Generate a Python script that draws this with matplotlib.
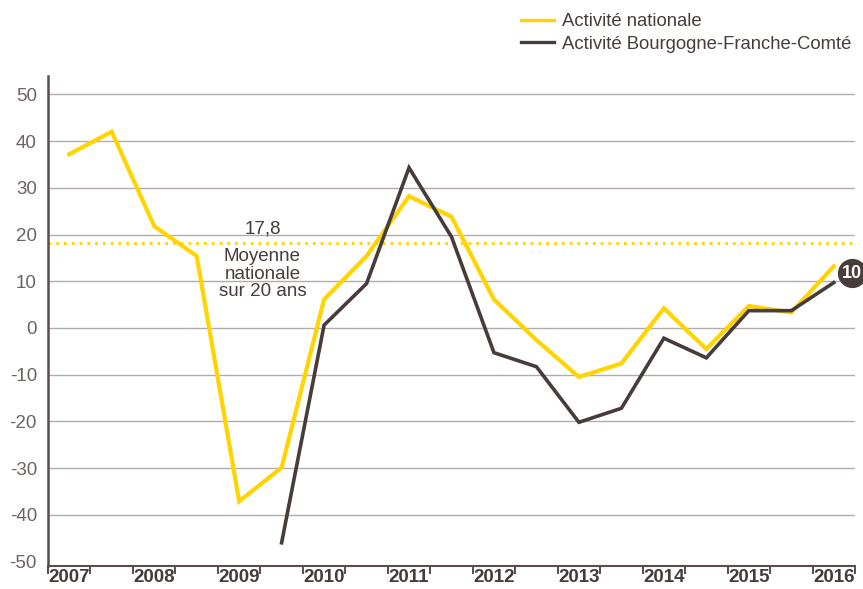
import matplotlib
matplotlib.use("Agg")
import matplotlib.pyplot as plt
import numpy as np

plt.rcParams["font.family"] = ["Liberation Sans", "DejaVu Sans"]

# semestres 2007 S1 -> 2016 S1
annees = ["2007", "2008", "2009", "2010", "2011", "2012", "2013", "2014", "2015", "2016"]
national = [37.2, 42.0, 21.8, 15.4, -37.1, -29.9, 6.1, 15.4, 28.2, 23.8,
            6.1, -2.6, -10.5, -7.6, 4.2, -4.5, 4.7, 3.3, 13.2]
bfc = [None, None, None, None, None, -46.0, 0.6, 9.5, 34.3, 19.5,
       -5.3, -8.3, -20.2, -17.2, -2.2, -6.4, 3.7, 3.7, 9.7]
moyenne_20ans = 18.1
moyenne_label = "17,8"
derniere_valeur = "10"

JAUNE = "#FFD400"
BRUN = "#483c3a"
GRIS_TXT = "#6e6262"
GRILLE = "#b3abab"

fig = plt.figure(figsize=(8.63, 5.89), dpi=100)
ax = fig.add_axes([48 / 863, (589 - 565.7) / 589, (855 - 48) / 863, 490 / 589])

n = len(national)
x = np.arange(n) + 0.5
nat = np.array(national, dtype=float)
reg = np.array([np.nan if v is None else v for v in bfc], dtype=float)

for yv in range(-40, 51, 10):
    ax.axhline(yv, color=GRILLE, lw=1.0, zorder=1)

ax.axhline(moyenne_20ans, color=JAUNE, lw=2.0, linestyle=(0, (1, 1.8)), zorder=2)

ax.plot(x, nat, color=JAUNE, lw=3.0, zorder=3, solid_joinstyle="miter",
        label="Activité nationale")
ax.plot(x, reg, color=BRUN, lw=2.6, zorder=4, solid_joinstyle="miter",
        label="Activité Bourgogne-Franche-Comté")

# annotation moyenne
ax.text(5.05, moyenne_20ans + 1.3, moyenne_label, ha="center", va="bottom",
        fontsize=13.5, color=BRUN)
ax.text(5.05, moyenne_20ans - 1.0, "Moyenne\nnationale\nsur 20 ans", ha="center",
        va="top", fontsize=13.5, color=BRUN, linespacing=1.05)

# pastille valeur finale
ax.plot([18.92], [11.7], marker="o", markersize=20, color=BRUN, clip_on=False, zorder=6)
ax.text(18.92, 11.6, derniere_valeur, ha="center", va="center", fontsize=13,
        fontweight="bold", color="white", clip_on=False, zorder=7)

ax.set_xlim(0, n)
ax.set_ylim(-50.9, 54)
ax.set_yticks(range(-50, 51, 10))
ax.set_yticklabels([str(v) for v in range(-50, 51, 10)])
ax.tick_params(axis="y", length=0, pad=8, labelsize=13.5, labelcolor=GRIS_TXT)

ax.set_xticks(np.arange(0, n + 1))
ax.set_xticklabels([])
ax.tick_params(axis="x", which="major", length=6, width=1.4, color="#5a4d4d", direction="out")
ax.set_xticks(np.arange(0, n, 2) + 0.5, minor=True)
ax.set_xticklabels(annees, minor=True)
ax.tick_params(axis="x", which="minor", length=0, pad=2.5, labelsize=13.5, labelcolor=BRUN)
for lab in ax.get_xticklabels(minor=True):
    lab.set_fontweight("bold")

for s in ["top", "right"]:
    ax.spines[s].set_visible(False)
ax.spines["left"].set_color("#5a4d4d")
ax.spines["left"].set_linewidth(1.8)
ax.spines["bottom"].set_color("#5a4d4d")
ax.spines["bottom"].set_linewidth(1.5)

leg = fig.legend(loc="upper left", bbox_to_anchor=(514 / 863, 1 - 6 / 589), frameon=False,
                 fontsize=13.3, handlelength=1.75, handletextpad=0.45, labelspacing=0.3,
                 labelcolor=BRUN, borderaxespad=0)
for h in leg.get_lines():
    h.set_linewidth(2.4)

fig.savefig("out.png", dpi=100)
